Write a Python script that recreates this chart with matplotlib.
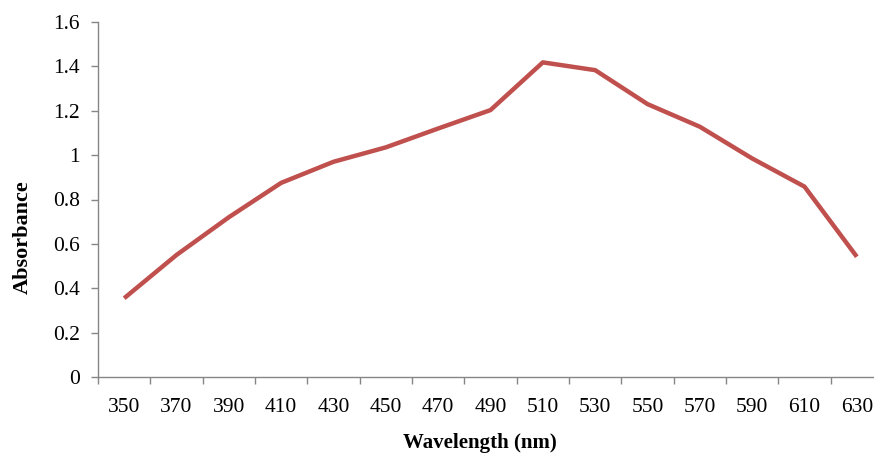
import matplotlib.pyplot as plt

plt.rcParams['font.family'] = 'Liberation Serif'

wavelengths = [350, 370, 390, 410, 430, 450, 470, 490, 510, 530, 550, 570, 590, 610, 630]
absorbance = [0.355, 0.55, 0.72, 0.875, 0.97, 1.035, 1.12, 1.203, 1.418, 1.383,
              1.23, 1.128, 0.985, 0.858, 0.542]

fig = plt.figure(figsize=(8.74, 4.54), dpi=100)
ax = fig.add_axes([98 / 874, 77 / 454, 785 / 874, 355 / 454])

pos = list(range(len(wavelengths)))
ax.plot(pos, absorbance, color='#C0504D', lw=3.2, solid_capstyle='butt')

ax.set_xlim(-0.5, len(wavelengths) - 0.5)
ax.set_ylim(0, 1.6)
ax.set_yticks([0, 0.2, 0.4, 0.6, 0.8, 1, 1.2, 1.4, 1.6])
ax.set_yticklabels(['0', '0.2', '0.4', '0.6', '0.8', '1', '1.2', '1.4', '1.6'])

# category labels sit between the tick marks
ax.set_xticks(pos)
ax.set_xticklabels([str(w) for w in wavelengths])
ax.set_xticks([p - 0.5 for p in pos] + [len(pos) - 0.5], minor=True)
ax.tick_params(axis='x', which='major', length=0, pad=15, labelsize=15.5)
ax.tick_params(axis='x', which='minor', length=5, color='#868686', width=1)
ax.tick_params(axis='y', length=5, color='#868686', width=1, labelsize=15.5, pad=8)

for s in ['top', 'right']:
    ax.spines[s].set_visible(False)
for s in ['left', 'bottom']:
    ax.spines[s].set_color('#868686')
    ax.spines[s].set_linewidth(1)

ax.set_ylabel('Absorbance', fontweight='bold', fontsize=16)
ax.yaxis.set_label_coords(-0.083, (377 - 237) / 355)
ax.set_xlabel('Wavelength (nm)', fontweight='bold', fontsize=15)
ax.xaxis.set_label_coords((479.5 - 98) / 785, -0.158)

fig.savefig('out.png', dpi=100)
